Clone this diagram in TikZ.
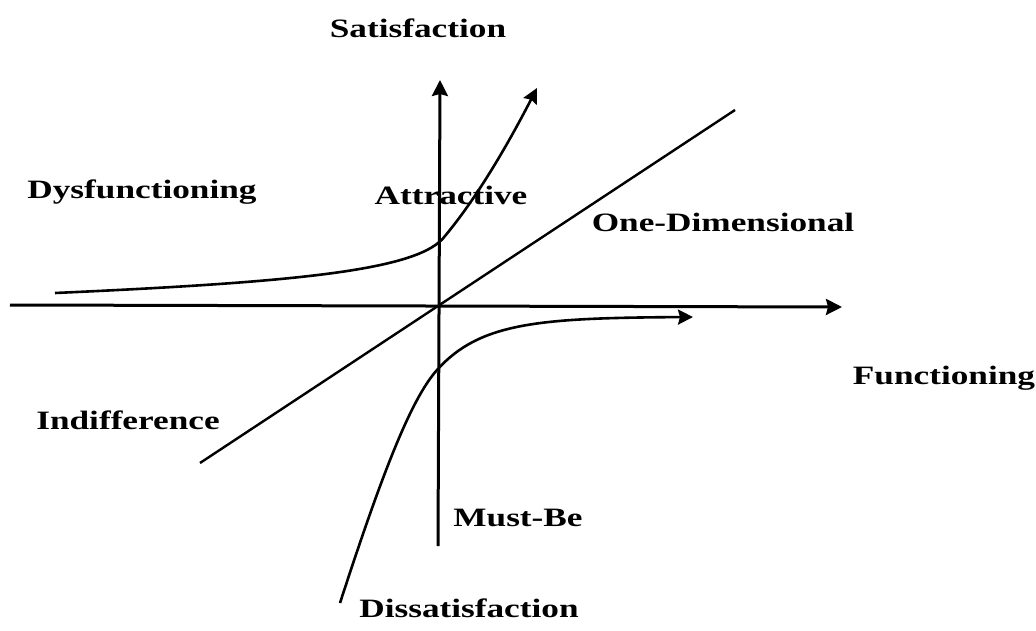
\documentclass[tikz,border=0pt]{standalone}
\usepackage{fontspec}
\setmainfont{Liberation Serif}[FakeStretch=1.33]
\usetikzlibrary{arrows.meta}
\begin{document}
\begin{tikzpicture}[x=1pt,y=-1pt,
  lbl/.style={font=\bfseries\fontsize{26.5}{30}\selectfont, inner sep=0pt},
  axis/.style={line width=3pt, -{Stealth[length=16pt,width=16pt,inset=2pt]}},
  crv/.style={line width=2.6pt, -{Stealth[length=15pt,width=15pt,inset=2pt]}},
  plain/.style={line width=2.4pt}]
\useasboundingbox (0,0) rectangle (1036,631);
% points
\coordinate (hl) at (10,305);
\coordinate (hr) at (842,307);
\coordinate (vb) at (438,546);
\coordinate (vt) at (440,80);
\coordinate (dl) at (200,463);
\coordinate (dr) at (735,110);
\coordinate (as) at (55,293);
\coordinate (ae) at (537,88);
\coordinate (ms) at (340,603);
\coordinate (me) at (693,317);
% axes
\draw[axis] (hl) -- (hr);
\draw[axis] (vb) -- (vt);
\draw[plain] (dl) -- (dr);
% attractive curve
\draw[crv] (as) .. controls (300,282) and (420,270) .. (445,236)
  .. controls (475,200) and (505,150) .. (ae);
% must-be curve
\draw[crv] (ms) .. controls (380,480) and (410,400) .. (437,370)
  .. controls (480,322) and (540,318) .. (me);
% labels
\node[lbl] (sat) at (418,28) {Satisfaction};
\node[lbl] (dys) at (142,192) {Dysfunctioning};
\node[lbl] (att) at (451,195) {Attractive};
\node[lbl] (one) at (723,222) {One-Dimensional};
\node[lbl] (fun) at (944,378) {Functioning};
\node[lbl] (ind) at (128,420) {Indifference};
\node[lbl] (mus) at (518,518) {Must-Be};
\node[lbl] (dis) at (469,608) {Dissatisfaction};
\end{tikzpicture}
\end{document}
